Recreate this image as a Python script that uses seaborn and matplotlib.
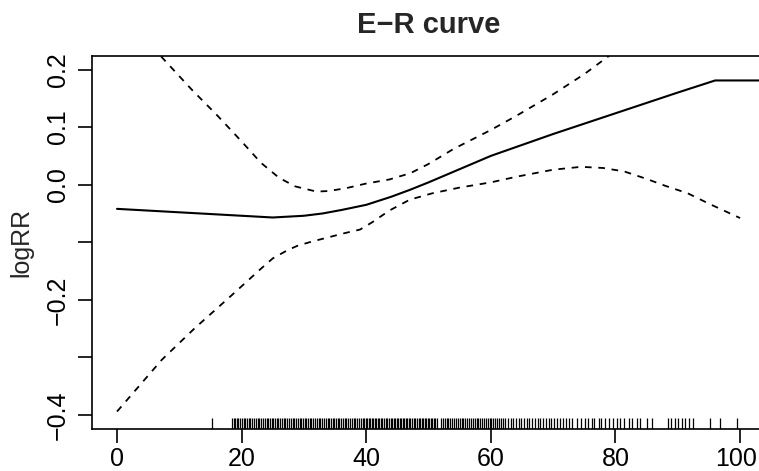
import matplotlib
matplotlib.use("Agg")
import matplotlib.pyplot as plt
import seaborn as sns
import pandas as pd

# ---- data ----
fit_x = [0, 5, 10, 15, 20, 25, 30, 33, 36, 40, 44, 47, 50, 55, 60, 65, 70, 75, 80, 85, 90, 94, 96, 100, 104]
fit_y = [-0.042, -0.045, -0.048, -0.051, -0.054, -0.057, -0.054, -0.050, -0.044, -0.035, -0.021, -0.009, 0.004,
         0.027, 0.050, 0.069, 0.088, 0.106, 0.124, 0.142, 0.160, 0.174, 0.181, 0.181, 0.181]

up_x = [0, 7.3, 12, 16.2, 20, 23.1, 26, 28.6, 32, 34, 36.8, 40, 43.7, 47.1, 50, 54, 60, 64, 70, 75, 80, 85]
up_y = [0.31, 0.220, 0.165, 0.119, 0.075, 0.038, 0.012, -0.003, -0.012, -0.011, -0.006, 0.002, 0.009, 0.020,
        0.036, 0.062, 0.095, 0.119, 0.157, 0.192, 0.232, 0.28]

lo_x = [0, 7.2, 12.5, 17.9, 23.2, 25, 27.5, 29, 31.2, 33, 36.6, 39, 41, 43.7, 47, 50.6, 55, 60, 64.2, 70, 74.5,
        78, 81.4, 85, 88, 91.6, 95, 100]
lo_y = [-0.394, -0.304, -0.249, -0.197, -0.145, -0.128, -0.113, -0.106, -0.099, -0.094, -0.084, -0.078, -0.065,
        -0.045, -0.026, -0.015, -0.005, 0.004, 0.014, 0.026, 0.031, 0.029, 0.023, 0.010, -0.002, -0.015, -0.033,
        -0.058]

rug_x = [15.3,
         18.4, 18.7, 18.9, 19.2, 19.4, 19.7, 20.0, 20.3, 20.5, 20.9, 21.2, 21.4, 21.7, 22.0, 22.3, 22.6, 22.8,
         23.1, 23.4, 23.7, 24.0, 24.2, 24.5, 24.8, 25.1, 25.4, 25.6, 25.9, 26.2, 26.5, 26.8, 27.0, 27.3, 27.6,
         27.9, 28.2, 28.4, 28.7, 29.0, 29.3, 29.6, 29.8, 30.1, 30.4, 30.7, 31.0, 31.2, 31.5, 31.8, 32.1, 32.4,
         32.6, 32.9, 33.2, 33.5, 33.8, 34.0, 34.3, 34.6, 34.9, 35.2, 35.4, 35.7, 36.0, 36.3, 36.6, 36.8, 37.1,
         37.4, 37.7, 38.0, 38.2, 38.5, 38.8, 39.1, 39.4, 39.6, 39.9,
         40.1, 40.4, 40.6, 40.9, 41.1, 41.4, 41.6, 41.9, 42.1, 42.4, 42.6, 42.9, 43.1, 43.4, 43.6, 43.9, 44.1,
         44.4, 44.6, 44.9, 45.1, 45.4, 45.6, 45.9, 46.1, 46.4, 46.6, 46.9, 47.1, 47.4, 47.6, 47.9, 48.1, 48.4,
         48.6, 48.9, 49.1, 49.4, 49.6, 49.9, 50.1, 50.4, 50.6, 50.9, 51.1, 51.4,
         52.0, 52.3, 52.6, 52.9, 53.2, 53.5, 53.8, 54.1, 54.4, 54.7, 55.0, 55.3, 55.6, 55.9, 56.2, 56.5, 56.8,
         57.1, 57.4, 57.7, 58.0, 58.3, 58.6, 58.9, 59.2, 59.5, 59.8, 60.1, 60.4, 60.7, 61.0, 61.3, 61.6, 61.9,
         62.3, 62.7, 63.2, 63.6, 64.0, 64.5, 64.9, 65.3, 65.8, 66.2, 66.6, 67.1, 67.5, 67.9, 68.4, 68.8, 69.3,
         69.7, 70.2, 70.6, 71.1, 71.5, 72.0, 72.5, 73.0,
         73.9, 74.4, 75.1, 75.6, 76.2, 76.6, 77.3, 77.7, 78.4, 78.9, 79.6, 80.2, 80.8, 81.3, 82.1, 82.7, 83.4,
         84.0, 85.0, 85.9, 88.4, 88.9, 89.5, 90.1, 90.6, 91.2, 91.8, 92.4, 95.2, 96.8, 99.5]

x_ticks = [0, 20, 40, 60, 80, 100]
x_labels = ["0", "20", "40", "60", "80", "100"]
y_ticks = [-0.4, -0.3, -0.2, -0.1, 0.0, 0.1, 0.2]
y_labels = ["\u22120.4", "", "\u22120.2", "", "0.0", "0.1", "0.2"]

# ---- figure ----
sns.set_style("ticks")
plt.rcParams["font.family"] = ["Liberation Sans", "DejaVu Sans"]

fig = plt.figure(figsize=(7.59, 4.71), dpi=100)
W, H = 759, 471
left_px, right_px, top_px, bot_px = 92.1, 765.0, 55.7, 428.8
ax = fig.add_axes([left_px / W, (H - bot_px) / H, (right_px - left_px) / W, (bot_px - top_px) / H])

fit_df = pd.DataFrame({"x": fit_x, "y": fit_y})
up_df = pd.DataFrame({"x": up_x, "y": up_y})
lo_df = pd.DataFrame({"x": lo_x, "y": lo_y})

sns.lineplot(data=fit_df, x="x", y="y", ax=ax, color="black", linewidth=1.5, sort=False)
sns.lineplot(data=up_df, x="x", y="y", ax=ax, color="black", linewidth=1.3, sort=False)
sns.lineplot(data=lo_df, x="x", y="y", ax=ax, color="black", linewidth=1.3, sort=False)
for ln in ax.lines[1:3]:
    ln.set_dashes((3.7, 3.7))

sns.rugplot(x=rug_x, ax=ax, height=0.03, color="black", linewidth=0.9)

ax.set_xlim(-4, 104)
ax.set_ylim(-0.424, 0.224)
ax.set_xticks(x_ticks)
# last label ("100") is drawn separately, nudged slightly so it stays inside the image
ax.set_xticklabels(x_labels[:-1] + [""])
ax.set_yticks(y_ticks)
ax.set_yticklabels(y_labels, rotation=90, va="center")

for s in ax.spines.values():
    s.set_color("black")
    s.set_linewidth(1.2)

ax.tick_params(axis="both", direction="out", length=10, width=1.2, color="black", labelsize=18, labelcolor="black")
ax.tick_params(axis="x", pad=3)
ax.tick_params(axis="y", pad=6)

ax.annotate(x_labels[-1], xy=(x_ticks[-1], 0), xycoords=("data", "axes fraction"),
            xytext=(-3, -13), textcoords="offset points", ha="center", va="top",
            fontsize=18, color="black")

ax.set_xlabel("")
ax.set_ylabel("logRR", fontsize=18, labelpad=9)
ax.set_title("E\u2212R curve", fontsize=21, fontweight="bold", pad=16)

fig.savefig("out.png", dpi=100)
